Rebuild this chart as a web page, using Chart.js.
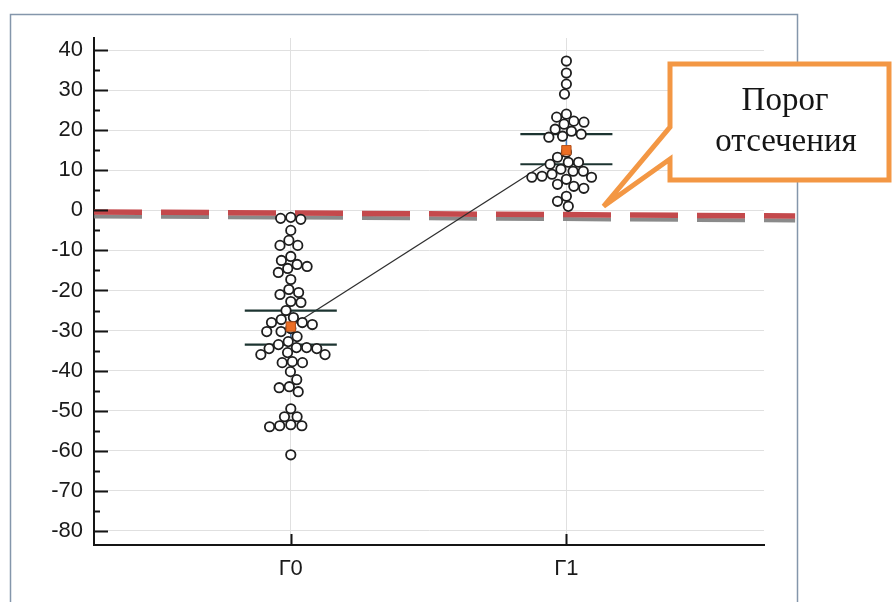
<!DOCTYPE html>
<html>
<head>
<meta charset="utf-8">
<script src="https://cdn.jsdelivr.net/npm/chart.js@4/dist/chart.umd.min.js"></script>
<style>
  html, body { margin: 0; padding: 0; background: #ffffff; }
  #wrap { width: 893px; height: 602px; position: relative; }
</style>
</head>
<body>
<div id="wrap"><canvas id="c" width="893" height="602"></canvas></div>
<script>
// ---- data ----
const CATEGORIES = ['Г0', 'Г1'];
const G0_VALUES = [-1.75, -2, -2.25, -5, -7.5, -8.75, -8.75, -11.5, -12.5, -13.5, -14, -14.5,
  -15.5, -17.25, -19.75, -20.5, -21, -22.75, -23, -25, -26.75, -27.25, -28, -28, -28.5, -29.5,
  -30.25, -30.25, -31.5, -32.75, -33.5, -34.25, -34.25, -34.5, -34.5, -35.5, -36, -36, -37.75,
  -38, -38, -40.25, -42.25, -44, -44.25, -45.25, -49.5, -51.5, -51.5, -53.5, -53.75, -53.75,
  -54, -61];
const G1_VALUES = [37.25, 34.25, 31.5, 29, 24, 23.25, 22.25, 22, 21.5, 20.25, 19.75, 19, 18.5,
  18.25, 14.5, 13.25, 12, 12, 11.5, 10.25, 9.75, 9.75, 9, 8.5, 8.25, 8.25, 7.75, 6.5, 6, 5.5,
  3.5, 2.25, 1];
const MEANS = [-29, 15];
const CI_LOW = [-33.5, 11.5];
const CI_HIGH = [-25, 19];
const Y_TICKS = [40, 30, 20, 10, 0, -10, -20, -30, -40, -50, -60, -70, -80];
const CUTOFF_X = [-0.714, 1.83];      // ends of the cut-off line (x units)
const CUTOFF_Y = [-0.4, -1.4];        // cut-off level at those ends
const CALLOUT_TEXT = ['Порог', 'отсечения'];
const CALLOUT_TIP = [1.135, 1];       // where the callout pointer touches

// ---- styling / layout constants ----
const FONT = '"Liberation Sans", Arial, sans-serif';
const CI_HALF = 0.167;
const DOT_R = 4.7;
const DOT_GAP = 10.2;

const singleSeg = (i, y) => [{ x: i - CI_HALF, y }, { x: i + CI_HALF, y }];

const datasets = [
  // G0 dots
  { type: 'scatter', data: G0_VALUES.map(v => ({ x: 0, y: v })), order: 2,
    pointRadius: DOT_R, pointBorderWidth: 1.8, pointBorderColor: '#1e1e1e', pointBackgroundColor: '#ffffff' },
  // G1 dots
  { type: 'scatter', data: G1_VALUES.map(v => ({ x: 1, y: v })), order: 2,
    pointRadius: DOT_R, pointBorderWidth: 1.8, pointBorderColor: '#1e1e1e', pointBackgroundColor: '#ffffff' },
  // line through the means
  { type: 'line', data: MEANS.map((m, i) => ({ x: i, y: m })), order: 6,
    borderColor: '#2f2f2f', borderWidth: 1.3, pointRadius: 0, fill: false },
  // blue spread bars
  ...MEANS.map((m, i) => ({ type: 'line', data: [{ x: i, y: CI_LOW[i] }, { x: i, y: CI_HIGH[i] }], order: 5,
    borderColor: '#4a7ebb', borderWidth: 1.6, pointRadius: 0, fill: false })),
  // confidence limits
  ...CI_LOW.map((v, i) => ({ type: 'line', data: singleSeg(i, v), order: 4,
    borderColor: '#1c3431', borderWidth: 2.2, pointRadius: 0, fill: false })),
  ...CI_HIGH.map((v, i) => ({ type: 'line', data: singleSeg(i, v), order: 4,
    borderColor: '#1c3431', borderWidth: 2.2, pointRadius: 0, fill: false })),
  // means
  { type: 'scatter', data: MEANS.map((m, i) => ({ x: i, y: m })), order: 1,
    pointStyle: 'rect', pointRadius: 6.6, pointBorderWidth: 1, pointBorderColor: '#b4501a',
    pointBackgroundColor: '#ec6e24' }
];

// frame around the figure
const framePlugin = {
  id: 'frame',
  beforeDraw(chart) {
    const ctx = chart.ctx;
    ctx.save();
    ctx.fillStyle = '#ffffff';
    ctx.fillRect(0, 0, chart.width, chart.height);
    ctx.strokeStyle = '#8496ab';
    ctx.lineWidth = 1.5;
    ctx.strokeRect(10.5, 14.5, 787, 620);
    ctx.restore();
  }
};

// dashed cut-off line with a soft grey shadow
const cutoffPlugin = {
  id: 'cutoff',
  beforeDatasetsDraw(chart) {
    const { ctx, scales: { x, y } } = chart;
    const x0 = x.getPixelForValue(CUTOFF_X[0]), x1 = x.getPixelForValue(CUTOFF_X[1]);
    const y0 = y.getPixelForValue(CUTOFF_Y[0]), y1 = y.getPixelForValue(CUTOFF_Y[1]);
    ctx.save();
    ctx.setLineDash([48, 19]);
    ctx.lineCap = 'butt';
    ctx.strokeStyle = 'rgba(125,125,125,0.9)';
    ctx.lineWidth = 4;
    ctx.beginPath(); ctx.moveTo(x0, y0 + 4.5); ctx.lineTo(x1, y1 + 4.5); ctx.stroke();
    ctx.strokeStyle = '#c4494c';
    ctx.lineWidth = 5.5;
    ctx.beginPath(); ctx.moveTo(x0, y0); ctx.lineTo(x1, y1); ctx.stroke();
    ctx.restore();
  }
};

// inward tick marks, major and minor
const ticksPlugin = {
  id: 'inTicks',
  afterDatasetsDraw(chart) {
    const { ctx, scales: { x, y }, chartArea } = chart;
    ctx.save();
    ctx.strokeStyle = '#151515';
    ctx.lineWidth = 2;
    ctx.beginPath();
    for (let v = Y_TICKS[Y_TICKS.length - 1]; v <= Y_TICKS[0]; v += 5) {
      const py = Math.round(y.getPixelForValue(v)) + 0.5;
      const len = v % 10 === 0 ? 14 : 6;
      ctx.moveTo(chartArea.left, py); ctx.lineTo(chartArea.left + len, py);
    }
    CATEGORIES.forEach((c, i) => {
      const px = Math.round(x.getPixelForValue(i)) + 0.5;
      ctx.moveTo(px, chartArea.bottom); ctx.lineTo(px, chartArea.bottom - 11);
    });
    ctx.stroke();
    ctx.restore();
  }
};

// callout box with pointer
const calloutPlugin = {
  id: 'callout',
  afterDraw(chart) {
    const { ctx, scales: { x, y } } = chart;
    const tx = x.getPixelForValue(CALLOUT_TIP[0]), ty = y.getPixelForValue(CALLOUT_TIP[1]);
    const L = 670, T = 64, R = 889, B = 180;
    ctx.save();
    ctx.beginPath();
    ctx.moveTo(L, T); ctx.lineTo(R, T); ctx.lineTo(R, B); ctx.lineTo(L, B);
    ctx.lineTo(L, 159); ctx.lineTo(tx, ty); ctx.lineTo(L, 127); ctx.closePath();
    ctx.fillStyle = '#ffffff';
    ctx.fill();
    ctx.lineJoin = 'miter';
    ctx.miterLimit = 2.5;
    ctx.lineWidth = 5;
    ctx.strokeStyle = '#f39744';
    ctx.stroke();
    ctx.fillStyle = '#151515';
    ctx.font = '33px "Liberation Serif", "Times New Roman", serif';
    ctx.textAlign = 'center';
    ctx.textBaseline = 'alphabetic';
    ctx.fillText(CALLOUT_TEXT[0], 785, 110);
    ctx.fillText(CALLOUT_TEXT[1], 786, 151);
    ctx.restore();
  }
};

const chart = new Chart(document.getElementById('c'), {
  type: 'scatter',
  data: { datasets },
  options: {
    responsive: false,
    animation: false,
    devicePixelRatio: 1,
    layout: { padding: { top: 38, right: 129, left: 0, bottom: 0 } },
    plugins: { legend: { display: false }, tooltip: { enabled: false } },
    scales: {
      x: {
        type: 'linear', min: -0.714, max: 1.717,
        afterBuildTicks: a => { a.ticks = CATEGORIES.map((_, i) => ({ value: i })); },
        afterFit: s => { s.height = 57; },
        ticks: { callback: v => CATEGORIES[v], font: { family: FONT, size: 22 }, color: '#1a1a1a',
                 padding: 11, autoSkip: false, maxRotation: 0 },
        grid: { color: '#e0e0e0', lineWidth: 1, drawTicks: false },
        border: { color: '#151515', width: 2 }
      },
      y: {
        min: -83.5, max: 43,
        afterBuildTicks: a => { a.ticks = Y_TICKS.map(v => ({ value: v })); },
        afterFit: s => { s.width = 94; },
        ticks: { font: { family: FONT, size: 22 }, color: '#1a1a1a', padding: 11 },
        grid: { color: '#e0e0e0', lineWidth: 1, drawTicks: false },
        border: { color: '#151515', width: 2 }
      }
    }
  },
  plugins: [framePlugin, cutoffPlugin, ticksPlugin, calloutPlugin]
});

// lay the dots out as a swarm around each category
function swarmOffsets(values, yScale, gap) {
  const items = values.map((v, i) => ({ i, py: yScale.getPixelForValue(v), dx: 0 }))
    .sort((a, b) => a.py - b.py);
  const placed = [];
  const out = new Array(values.length);
  const g2 = gap * gap;
  for (const p of items) {
    const cands = [0];
    for (const q of placed) {
      const dy = p.py - q.py;
      if (Math.abs(dy) < gap) {
        const d = Math.sqrt(g2 - dy * dy);
        cands.push(q.dx + d, q.dx - d);
      }
    }
    cands.sort((a, b) => Math.abs(a) - Math.abs(b) || a - b);
    for (const c of cands) {
      if (placed.every(q => (q.dx - c) ** 2 + (q.py - p.py) ** 2 >= g2 - 0.01)) { p.dx = c; break; }
    }
    placed.push(p);
    out[p.i] = p.dx;
  }
  return out;
}

[G0_VALUES, G1_VALUES].forEach((vals, gi) => {
  const xs = chart.scales.x, ys = chart.scales.y;
  const cx = xs.getPixelForValue(gi);
  const offs = swarmOffsets(vals, ys, DOT_GAP);
  chart.data.datasets[gi].data = vals.map((v, k) => ({ x: xs.getValueForPixel(cx + offs[k]), y: v }));
});
chart.update('none');
</script>
</body>
</html>
